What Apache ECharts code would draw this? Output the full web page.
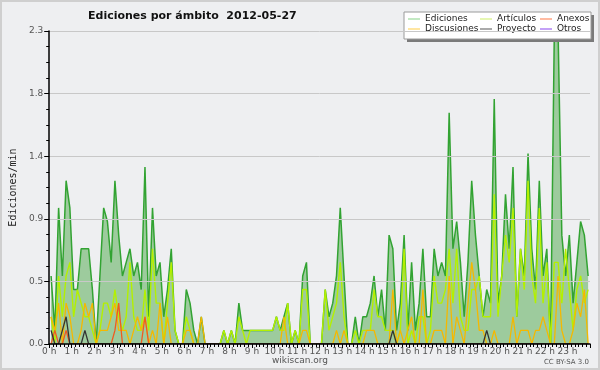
<!DOCTYPE html>
<html><head><meta charset="utf-8">
<script src="https://cdn.jsdelivr.net/npm/echarts@6/dist/echarts.min.js"></script>
<style>html,body{margin:0;padding:0;background:#eeeff1}#c{width:600px;height:370px}</style>
</head><body><div id="c"></div>
<script>
// 10-minute bins, values in edits per minute
const binMinutes = 10;
const ediciones = [0.5,0.1,1.0,0.5,1.2,1.0,0.4,0.4,0.7,0.7, 0.7,0.4,0.0,0.5,1.0,0.9,0.6,1.2,0.8,0.5,
  0.6,0.7,0.5,0.6,0.4,1.3,0.2,1.0,0.5,0.6, 0.2,0.4,0.7,0.1,0.0,0.0,0.4,0.3,0.1,0.0,
  0.2,0,0,0,0,0,0.1,0,0.1,0, 0.3,0.1,0.1,0.1,0.1,0.1,0.1,0.1,0.1,0.1,
  0.2,0.1,0.2,0.3,0.0,0.1,0.0,0.5,0.6,0, 0,0,0,0.4,0.2,0.3,0.5,1.0,0.5,0,
  0,0.2,0,0.2,0.2,0.3,0.5,0.2,0.4,0.1, 0.8,0.7,0.1,0.3,0.8,0.1,0.6,0.1,0.3,0.7,
  0.2,0.2,0.7,0.5,0.6,0.5,1.7,0.7,0.9,0.6, 0.2,0.6,1.2,0.8,0.5,0.2,0.4,0.3,1.8,0.3,
  0.5,1.1,0.7,1.3,0.2,0.7,0.5,1.4,0.7,0.4, 1.2,0.5,0.7,0.0,2.3,2.3,0.8,0.5,0.8,0.3,
  0.6,0.9,0.8,0.5];
const articulos = [0.2,0.0,0.5,0.2,0.5,0.6,0.2,0.4,0.3,0.2, 0.2,0.1,0.0,0.1,0.3,0.3,0.2,0.4,0.2,0.1,
  0.2,0.6,0.2,0.1,0.1,0.4,0.1,0.7,0.3,0.3, 0.0,0.3,0.6,0.1,0.0,0.0,0.2,0.1,0.0,0.0,
  0,0,0,0,0,0,0.1,0,0.1,0, 0.2,0.1,0,0.1,0.1,0.1,0.1,0.1,0.1,0.1,
  0.2,0.1,0.1,0.3,0,0.1,0,0.4,0.4,0, 0,0,0,0.4,0.1,0.2,0.3,0.6,0.2,0,
  0,0.1,0,0.1,0.1,0.1,0.4,0.2,0.2,0.1, 0.1,0.1,0,0.1,0.7,0,0.1,0,0.2,0.2,
  0,0.1,0.5,0.3,0.3,0.4,0.7,0.3,0.7,0.2, 0.1,0.1,0.4,0.4,0.5,0.2,0.2,0.2,1.1,0.2,
  0.5,0.8,0.6,1.0,0.2,0.7,0.4,1.2,0.5,0.3, 1.0,0.3,0.6,0.0,0.6,0.6,0.3,0.7,0.4,0.1,
  0.4,0.5,0.3,0.4];
const discusiones = [0.2,0.1,0.3,0.0,0.3,0.2,0.0,0.0,0.1,0.3, 0.2,0.3,0.0,0.1,0.1,0.1,0.2,0.3,0.1,0.1,
  0.1,0.0,0.1,0.2,0.1,0.2,0.0,0.1,0.0,0.3, 0,0.2,0,0,0,0,0.1,0.1,0,0,
  0.2,0,0,0,0,0,0,0,0,0, 0,0,0,0,0,0,0,0,0,0,
  0,0,0.2,0,0,0,0,0.1,0.1,0, 0,0,0,0,0,0,0.1,0,0.1,0,
  0,0,0,0,0.1,0.1,0.1,0,0,0, 0,0.4,0,0.1,0,0.1,0.2,0,0,0.4,
  0,0,0.1,0.1,0.1,0,0.5,0,0.2,0.1, 0,0.3,0.6,0.4,0.1,0.1,0,0,0.1,0,
  0,0,0,0.2,0,0.1,0.1,0.1,0,0.1, 0.1,0.2,0.1,0,0,0.5,0.1,0,0,0.1,
  0.3,0.2,0.4,0];
const anexos = [0,0.1,0,0,0.1,0,0,0,0,0, 0,0,0,0,0,0,0,0.1,0.3,0, 0,0,0,0,0,0.2,0,0,0,0,
  0,0,0,0,0,0,0,0,0,0, 0,0,0,0,0,0,0,0,0,0, 0,0,0,0,0,0,0,0,0,0,
  0,0,0,0,0,0,0,0,0,0, 0,0,0,0,0,0,0,0,0,0, 0,0,0,0,0,0,0,0,0,0,
  0,0,0,0,0,0,0,0,0,0, 0,0,0,0,0,0,0,0,0,0, 0,0,0,0,0,0,0,0,0,0,
  0,0,0,0,0,0,0,0,0,0, 0,0,0,0,0,0,0,0,0,0, 0,0,0,0];
const proyecto = [0.1,0,0,0.1,0.2,0,0,0,0,0.1, 0,0,0,0,0,0,0,0,0,0, 0,0,0,0,0,0,0,0,0,0,
  0,0,0,0,0,0,0,0,0,0, 0,0,0,0,0,0,0,0,0,0, 0,0,0,0,0,0,0,0,0,0,
  0,0,0,0,0,0,0,0,0,0, 0,0,0,0,0,0,0,0,0,0, 0,0,0,0,0,0,0,0,0,0,
  0,0.1,0,0,0,0,0,0,0,0, 0,0,0,0,0,0,0,0,0,0, 0,0,0,0,0,0,0.1,0,0,0,
  0,0,0,0,0,0,0,0,0,0, 0,0,0,0,0,0,0,0,0,0, 0,0,0,0];
const otros = [];
const yTicks = [0, 0.46, 0.92, 1.38, 1.84, 2.3];

const times = ediciones.map((_, i) => i * binMinutes + binMinutes / 2);
const pair = arr => arr.map((v, i) => [times[i], v]);

const FONT = 'DejaVu Sans';
const legendBase = {
  orient: 'vertical', icon: 'rect', itemWidth: 12, itemHeight: 1, itemGap: 0,
  padding: 0, selectedMode: false, z: 6,
  textStyle: { fontFamily: FONT, fontSize: 9, color: '#222', lineHeight: 10 }
};
const chart = echarts.init(document.getElementById('c'), null, { renderer: 'canvas' });
chart.setOption({
  backgroundColor: '#eeeff1',
  animation: false,
  title: {
    text: 'Ediciones por ámbito  2012-05-27', left: 83, top: 6,
    textStyle: { fontFamily: FONT, fontSize: 11, fontWeight: 'bold', color: '#111' }
  },
  grid: { left: 45.5, right: 10, top: 31, bottom: 26 },
  xAxis: {
    type: 'value', min: 0, max: 1440, interval: 60, z: 10,
    axisLine: { lineStyle: { color: '#000', width: 1.5 } },
    axisTick: { length: 4, lineStyle: { color: '#000' } },
    minorTick: { show: true, splitNumber: 6, length: 3, lineStyle: { color: '#000' } },
    splitLine: { show: false },
    axisLabel: { formatter: v => (v / 60) + ' h', showMaxLabel: false, margin: 3,
      fontFamily: FONT, fontSize: 9, color: '#555' }
  },
  yAxis: {
    type: 'value', min: yTicks[0], max: yTicks[yTicks.length - 1], interval: yTicks[1], z: 10,
    name: 'Ediciones/min', nameLocation: 'middle', nameGap: 31,
    nameTextStyle: { fontFamily: 'DejaVu Sans Mono', fontSize: 10, color: '#222' },
    axisLine: { show: true, lineStyle: { color: '#000', width: 1.5 } },
    axisTick: { show: true, length: 5, lineStyle: { color: '#000' } },
    minorTick: { show: true, splitNumber: 4, length: 3, lineStyle: { color: '#000' } },
    splitLine: { show: true, lineStyle: { color: '#c8c8c8' } },
    axisLabel: { formatter: v => v.toFixed(1), margin: 6, fontFamily: FONT, fontSize: 9, color: '#555' }
  },
  legend: [
    Object.assign({}, legendBase, { data: ['Ediciones', 'Discusiones'], left: 408, top: 14 }),
    Object.assign({}, legendBase, { data: ['Artículos', 'Proyecto'], left: 480, top: 14 }),
    Object.assign({}, legendBase, { data: ['Anexos', 'Otros'], left: 540, top: 14 })
  ],
  graphic: [
    { type: 'rect', z: 5, silent: true, shape: { x: 407, y: 15, width: 187, height: 27 }, style: { fill: '#7a7a7a' } },
    { type: 'rect', z: 5, silent: true, shape: { x: 404, y: 12, width: 187, height: 27 }, style: { fill: '#ffffff', stroke: '#9a9a9a', lineWidth: 1 } },
    { type: 'text', z: 5, silent: true, style: { text: 'wikiscan.org', x: 300, y: 361, align: 'center', verticalAlign: 'middle', fill: '#555', font: '9px "DejaVu Sans"' } },
    { type: 'text', z: 5, silent: true, style: { text: 'CC BY-SA 3.0', x: 589, y: 362, align: 'right', verticalAlign: 'middle', fill: '#555', font: '7px "DejaVu Sans"' } },
    { type: 'rect', z: 20, silent: true, shape: { x: 1, y: 1, width: 598, height: 368 }, style: { fill: 'none', stroke: '#cfcfcf', lineWidth: 2 } }
  ],
  series: [
    { name: 'Ediciones', type: 'line', data: pair(ediciones), symbol: 'none', z: 2,
      itemStyle: { color: '#86d386' }, lineStyle: { color: '#32a332', width: 1.5 },
      areaStyle: { color: '#9dcb9d', opacity: 1 } },
    { name: 'Artículos', type: 'line', data: pair(articulos), symbol: 'none', z: 3,
      itemStyle: { color: '#cdee66' }, lineStyle: { color: '#b4f000', width: 1.4 } },
    { name: 'Discusiones', type: 'line', data: pair(discusiones), symbol: 'none', z: 3,
      itemStyle: { color: '#ffcc44' }, lineStyle: { color: '#f5b800', width: 1.3 } },
    { name: 'Anexos', type: 'line', data: pair(anexos), symbol: 'none', z: 3,
      itemStyle: { color: '#ff7744' }, lineStyle: { color: '#f05a20', width: 1.3 } },
    { name: 'Proyecto', type: 'line', data: pair(proyecto), symbol: 'none', z: 3,
      itemStyle: { color: '#555555' }, lineStyle: { color: '#333333', width: 1.3 } },
    { name: 'Otros', type: 'line', data: pair(otros), symbol: 'none', z: 3,
      itemStyle: { color: '#8844ee' }, lineStyle: { color: '#8844ee', width: 1.3 } }
  ]
});
</script></body></html>
